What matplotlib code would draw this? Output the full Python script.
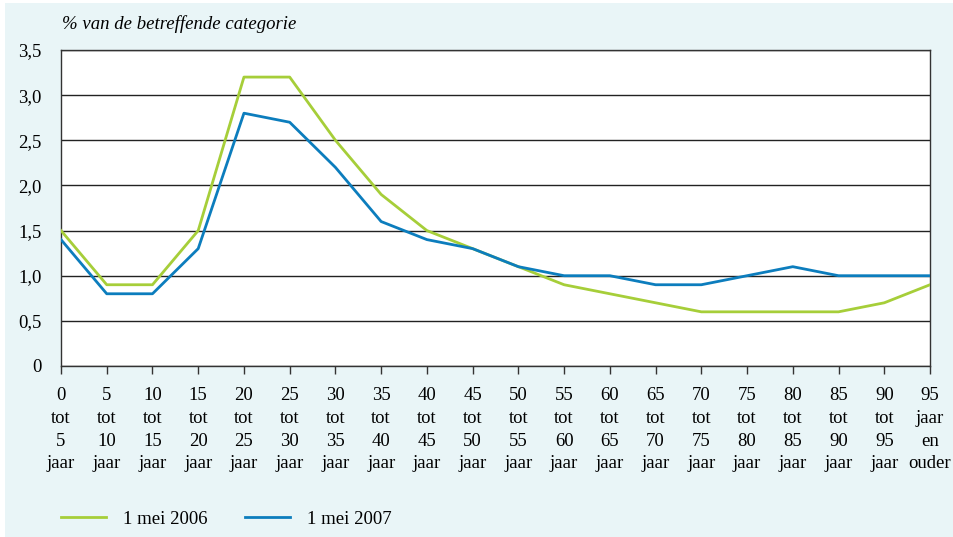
import matplotlib.pyplot as plt
from matplotlib.patches import Rectangle
from matplotlib.lines import Line2D

plt.rcParams["font.family"] = ["Liberation Serif", "DejaVu Serif"]

start_ages = [0, 5, 10, 15, 20, 25, 30, 35, 40, 45, 50, 55, 60, 65, 70, 75, 80, 85, 90, 95]
tick_labels = [f"{a}\ntot\n{a + 5}\njaar" for a in start_ages[:-1]] + ["95\njaar\nen\nouder"]
mei_2006 = [1.5, 0.9, 0.9, 1.5, 3.2, 3.2, 2.5, 1.9, 1.5, 1.3, 1.1, 0.9, 0.8, 0.7, 0.6, 0.6, 0.6, 0.6, 0.7, 0.9]
mei_2007 = [1.4, 0.8, 0.8, 1.3, 2.8, 2.7, 2.2, 1.6, 1.4, 1.3, 1.1, 1.0, 1.0, 0.9, 0.9, 1.0, 1.1, 1.0, 1.0, 1.0]
y_ticks = [0, 0.5, 1.0, 1.5, 2.0, 2.5, 3.0, 3.5]
y_labels = ["0", "0,5", "1,0", "1,5", "2,0", "2,5", "3,0", "3,5"]

GREEN = "#A6CE39"
BLUE = "#0C7DBD"
PANEL = "#E9F5F7"
FS = 13.5

fig = plt.figure(figsize=(9.54, 5.37), dpi=100, facecolor="white")
fig.add_artist(Rectangle((5 / 954, 0), 1 - 5 / 954, 1 - 3 / 537, transform=fig.transFigure,
                         facecolor=PANEL, edgecolor="none", zorder=-10))

ax = fig.add_axes([61 / 954, 171 / 537, 869 / 954, 316 / 537])
ax.set_facecolor("white")
x = list(range(len(start_ages)))
ax.plot(x, mei_2006, color=GREEN, linewidth=2.0, zorder=3)
ax.plot(x, mei_2007, color=BLUE, linewidth=2.0, zorder=4)

ax.set_xlim(0, len(x) - 1)
ax.set_ylim(0, 3.5)
ax.set_yticks(y_ticks)
ax.set_yticklabels(y_labels, fontsize=FS)
ax.set_xticks(x)
ax.set_xticklabels(tick_labels, fontsize=FS, linespacing=1.45)
ax.tick_params(axis="y", length=0, pad=14)
ax.tick_params(axis="x", length=6, width=1, color="#333333", direction="out", pad=9)
ax.yaxis.grid(True, color="#222222", linewidth=1.0)
ax.set_axisbelow(True)
for side in ["left", "right", "bottom", "top"]:
    ax.spines[side].set_color("#333333")
    ax.spines[side].set_linewidth(1.0)

fig.text(62 / 954, 1 - 24 / 537, "% van de betreffende categorie", fontsize=FS,
         style="italic", ha="left", va="center")

handles = [Line2D([], [], color=GREEN, linewidth=2.0), Line2D([], [], color=BLUE, linewidth=2.0)]
fig.legend(handles, ["1 mei 2006", "1 mei 2007"], loc="center left",
           bbox_to_anchor=(61 / 954, 1 - 519 / 537), ncol=2, frameon=False, fontsize=FS,
           borderpad=0, borderaxespad=0, handlelength=2.4, handletextpad=0.9,
           columnspacing=2.0)

fig.savefig("out.png", dpi=100, facecolor=fig.get_facecolor())
